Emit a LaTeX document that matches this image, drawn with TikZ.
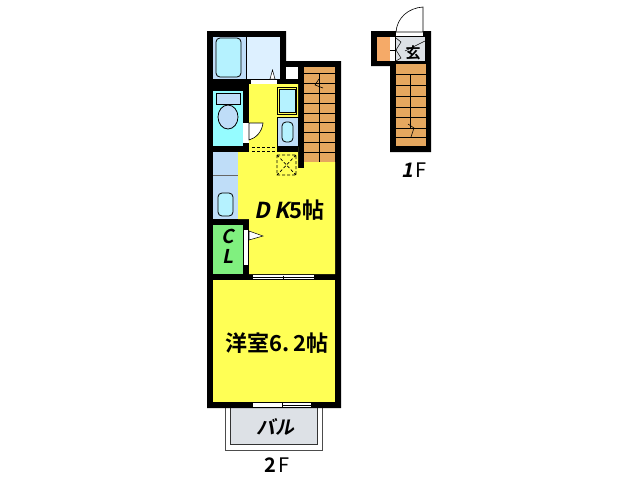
\documentclass[tikz,border=0pt]{standalone}
\usepackage{fontspec}
\setmainfont{Liberation Sans}
\newfontfamily\jpf{Noto Sans CJK JP}[BoldFont={* Bold}]
\newfontfamily\jpi{Noto Sans CJK JP}[BoldFont={* Bold},BoldFeatures={FakeSlant=0.2}]
\definecolor{yel}{HTML}{FFFF55}
\definecolor{cyn}{HTML}{B5F2FF}
\definecolor{tcy}{HTML}{95FCFF}
\definecolor{blu}{HTML}{BFDDF8}
\definecolor{pal}{HTML}{DDF0FF}
\definecolor{org}{HTML}{E5A75F}
\definecolor{org2}{HTML}{F5AA68}
\definecolor{grn}{HTML}{80F07F}
\definecolor{gry}{HTML}{DDE1E6}
\tikzset{
 x=1pt,y=-1pt,
 fx/.style={draw=black,line width=.8pt},
 lab/.style={inner sep=0pt,font=\jpf\bfseries},
 stairln/.style={line width=.55pt,draw=black},
 dsh/.style={line width=.8pt,dash pattern=on 3pt off 2pt},
}
\begin{document}
\begin{tikzpicture}
\useasboundingbox (0,0) rectangle (638,480);
% balcony
\draw[fill=white,draw=black!70,line width=.6pt] (225,406) rectangle (322,450);
\draw[fill=gry,draw=black!80,line width=.8pt] (230,406) rectangle (317,444);
% walls 2F
\fill (207,31) -- (286,31) -- (286,61) -- (341,61) -- (341,408) -- (207,408) -- cycle;
% bath
\fill[blu] (213,37) rectangle (246,79);
\fill[pal] (247,37) rectangle (280,79);
\draw[fx,fill=cyn,rounded corners=4pt] (216,38) rectangle (241,77);
\draw[fill=white,line width=.5pt] (270,79) -- (272.5,70) -- (275,79) -- cycle;
\fill[white] (251,80) rectangle (277,84);
\fill[white] (286,67) rectangle (298,79);
% corridor and DK
\fill[yel] (249,84) -- (298,84) -- (298,168) -- (304,168) -- (304,162) -- (335,162) -- (335,274) -- (249,274) -- (249,219) -- (238,219) -- (238,152) -- (249,152) -- cycle;
% wall between hall and wash
\fill (277,146) rectangle (298,152);
\fill (243,146) rectangle (249,152);
% toilet
\fill[tcy] (213,91) rectangle (243,146);
\draw[fx,fill=blu] (216,93) rectangle (240,104);
\draw[fx,fill=blu] (228,117) ellipse (10 and 12);
\fill[white] (243,123) rectangle (249,143);
\draw[fill=white,line width=.6pt] (249,123) -- (263,123) .. controls (262,132) and (256,138) .. (249,140) -- cycle;
% wash
\draw[fx,fill=cyn] (279,89) rectangle (295,112);
\draw[line width=.8pt] (277.5,87) rectangle (296.5,114);
\draw[fx,fill=blu] (277.5,117) rectangle (298,146);
\draw[fx,fill=cyn,rounded corners=4pt] (282,122) rectangle (293,142);
\draw[dsh] (252,147) -- (276,147) (252,151) -- (276,151);
\draw[dsh,line width=.7pt] (277,155) rectangle (296,175) (277,155) -- (296,175) (296,155) -- (277,175);
% kitchen
\fill[blu] (213,152) rectangle (238,219);
\draw[line width=.5pt,draw=black!60] (213,175) -- (238,175);
\draw[fx,fill=cyn,rounded corners=4pt] (218,193) rectangle (233,216);
% CL
\fill[grn] (213,225) rectangle (243,274);
\fill[white] (244,230) rectangle (248,265);
\draw[fill=white,line width=.5pt] (249,231) -- (263,236) -- (249,240) -- cycle;
% sliding door
\fill[white] (253,275) rectangle (314,279);
\draw[line width=.5pt] (253,277) -- (314,277) (283,275.5) -- (283,278.5);
% room
\fill[yel] (213,280) rectangle (335,402);
\fill[white] (253,403) rectangle (311,407);
\draw[line width=.5pt] (283,405) -- (311,405) (282,403) -- (282,407);
% stairs 2F
\fill[org] (304,67) rectangle (335,162);
\foreach \yy in {73,83,93,103,113,122,132,142,152} \draw[stairln] (304,\yy) -- (335,\yy);
\draw[stairln] (319.5,73) -- (319.5,162);
\draw[line width=.6pt] (319,79) -- (315,85) -- (323,88);
% 1F
\fill (371,31) -- (431,31) -- (431,152) -- (390,152) -- (390,66) -- (371,66) -- cycle;
\fill[org2] (377,37) rectangle (390,61);
\fill[white] (390,37) rectangle (396,61);
\fill[gry] (396,37) rectangle (425,61);
\draw[line width=.5pt] (395.5,37) -- (395.5,61) (390,50) -- (395.5,50);
\draw[line width=.5pt] (396,38) -- (401,42) -- (396,50) -- (401,58) -- (396,61) (405,51) -- (425,41);
\fill[org] (396,64) rectangle (426,146);
\foreach \yy in {74,85,96,107,117,128,137} \draw[stairln] (396,\yy) -- (426,\yy);
\draw[stairln] (410,74) -- (410,128);
\draw[line width=.6pt] (408,124) -- (414,128) -- (411,137);
\fill[white] (396,32) rectangle (423,36);
\draw[fill=white,line width=.6pt] (396,32) .. controls (397,18) and (408,8) .. (423,7) -- (423,32) -- cycle;
% labels
\node[lab,font=\jpf\bfseries\fontsize{15}{15}\selectfont] (gen) at (413,53) {玄};
\node[lab,font=\jpi\bfseries\fontsize{19}{19}\selectfont] (cc) at (228,236) {C};
\node[lab,font=\jpi\bfseries\fontsize{19}{19}\selectfont] (ll) at (228,256) {L};
\node[lab,font=\jpi\bfseries\fontsize{22}{22}\selectfont] (dk) at (289.5,210) {D\hspace{4pt}K{\jpf\bfseries 5帖}};
\node[lab,font=\jpf\bfseries\fontsize{22}{22}\selectfont] (yo) at (277,343) {洋室6.\hspace{3pt}2帖};
\node[lab,font=\jpi\bfseries\fontsize{19}{19}\selectfont] (bal) at (275,427) {バル};
\node[lab,font=\jpf\bfseries\fontsize{20}{20}\selectfont] (fb) at (277,465) {2\hspace{2pt}{\mdseries F}};
\node[lab,font=\jpi\bfseries\fontsize{20}{20}\selectfont] (fa) at (414,170) {1\hspace{3pt}{\jpf\mdseries F}};
\end{tikzpicture}
\end{document}
